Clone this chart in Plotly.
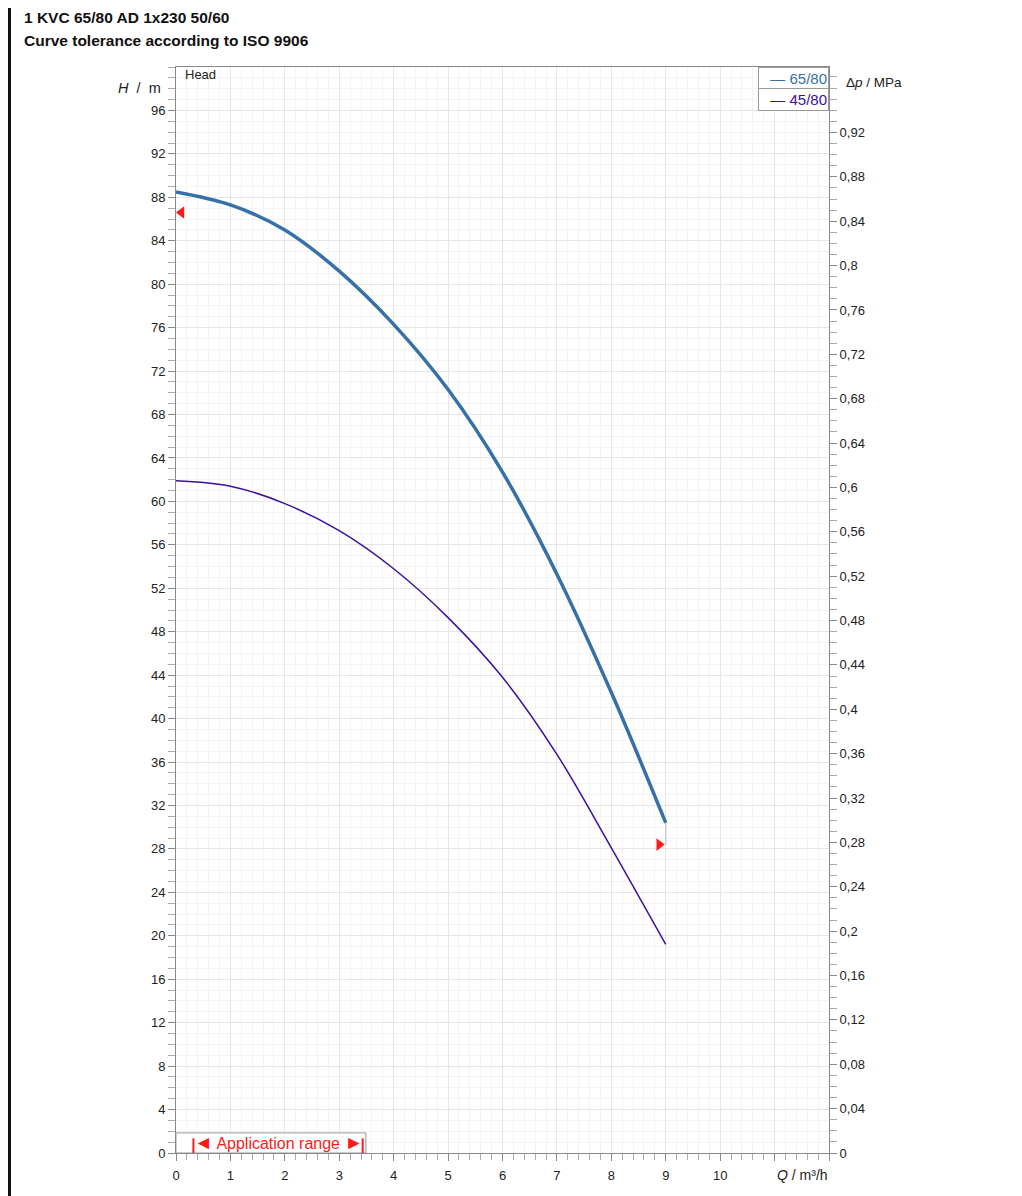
import plotly.graph_objects as go

# flow Q in m3/h
flow = [0, 1, 2, 3, 4, 5, 6, 7, 8, 9]
# head H in m for the two pump variants
head_65_80 = [88.5, 87.3, 85.0, 81.2, 76.3, 70.3, 62.7, 53.3, 42.4, 30.4]
head_45_80 = [61.9, 61.4, 59.8, 57.3, 53.8, 49.3, 43.8, 36.7, 28.1, 19.2]

# tolerance markers (ISO 9906)
tol_q = [0.1, 8.88]
tol_h = [86.6, 28.4]
tol_symbols = ["triangle-left", "triangle-right"]

# application range on the Q axis
app_range = [0.32, 3.43]
app_box = [0, 3.49]

# conversion head -> pressure (MPa per m of water)
MPA_PER_M = 0.00979
H_MAX = 100
Q_MAX = 12

h_ticks = list(range(0, 97, 4))
q_ticks = list(range(0, 13))
q_labels = [str(q) if q <= 10 else "" for q in q_ticks]
p_ticks = [round(i * 0.04, 2) for i in range(24)]


def fmt_p(v):
    s = f"{v:.2f}".rstrip("0").rstrip(".")
    return s.replace(".", ",")


p_labels = [fmt_p(v) for v in p_ticks]

blue = "#3571a8"
purple = "#3b10a3"
red = "#ff1a1a"
font = "Liberation Sans, Arial, sans-serif"

fig = go.Figure()

fig.add_trace(go.Scatter(
    x=flow, y=head_65_80, mode="lines", name="65/80",
    line=dict(color=blue, width=3.5, shape="spline", smoothing=1.0),
))
fig.add_trace(go.Scatter(
    x=flow, y=head_45_80, mode="lines", name="45/80",
    line=dict(color=purple, width=1.5, shape="spline", smoothing=1.0),
))
# grey connector at end of curve
fig.add_trace(go.Scatter(
    x=[flow[-1], flow[-1]], y=[tol_h[1], head_65_80[-1]], mode="lines",
    line=dict(color="#cccccc", width=1.5), hoverinfo="skip",
))
fig.add_trace(go.Scatter(
    x=tol_q, y=tol_h, mode="markers",
    marker=dict(symbol=tol_symbols, size=11, color=red),
    hoverinfo="skip",
))
# pressure axis carrier
fig.add_trace(go.Scatter(
    x=flow, y=[h * MPA_PER_M for h in head_65_80], yaxis="y2",
    mode="lines", line=dict(width=0), opacity=0, hoverinfo="skip",
))

axis_common = dict(
    showline=True, linecolor="#888888", linewidth=1,
    ticks="outside", tickcolor="#888888", ticklen=7,
    tickfont=dict(family=font, size=13, color="#222222"),
    zeroline=False,
)

# page has an 8px body margin, so the figure is 8px smaller than the window
fig.update_layout(
    width=1014, height=1188,
    margin=dict(l=168, r=193, t=59, b=43),
    paper_bgcolor="white", plot_bgcolor="white",
    showlegend=False,
    font=dict(family=font, color="#222222"),
    xaxis=dict(
        range=[0, Q_MAX], tickmode="array", tickvals=q_ticks, ticktext=q_labels,
        showgrid=True, gridcolor="#e6e6e6", mirror=True, ticklabelstandoff=3,
        minor=dict(dtick=0.2, ticklen=6, tickcolor="#aaaaaa", ticks="outside",
                   showgrid=True, gridcolor="#f4f4f4"),
        **axis_common,
    ),
    yaxis=dict(
        range=[0, H_MAX], tickmode="array", tickvals=h_ticks,
        showgrid=True, gridcolor="#e6e6e6",
        minor=dict(dtick=1, ticklen=7, tickcolor="#aaaaaa", ticks="outside",
                   showgrid=True, gridcolor="#f4f4f4"),
        **axis_common,
    ),
    yaxis2=dict(
        range=[0, H_MAX * MPA_PER_M], overlaying="y", side="right",
        tickmode="array", tickvals=p_ticks, ticktext=p_labels,
        showgrid=False,
        minor=dict(dtick=0.01, ticklen=7, tickcolor="#aaaaaa", ticks="outside"),
        **axis_common,
    ),
)

pw, ph = 653.0, 1086.0


def px(x):
    return (x - 176) / pw


def py(y):
    return (1153 - y) / ph


annotations = [
    dict(text="<b>1 KVC 65/80 AD 1x230 50/60</b>", x=px(22), y=py(17),
         font=dict(size=15.5, color="#111111")),
    dict(text="<b>Curve tolerance according to ISO 9906</b>", x=px(22), y=py(41),
         font=dict(size=15.5, color="#111111")),
    dict(text="Head", x=px(183), y=py(75), font=dict(size=13, color="#222222")),
    dict(text="<i>H</i>&nbsp;&nbsp;/&nbsp;&nbsp;m", x=px(163), y=py(88),
         xanchor="right", font=dict(size=14.5, color="#222222")),
    dict(text="Δ<i>p</i> / MPa", x=px(844), y=py(82),
         font=dict(size=13.5, color="#222222")),
]
for a in annotations:
    a.setdefault("xanchor", "left")
    a.update(xref="paper", yref="paper", yanchor="middle", showarrow=False)
    fig.add_annotation(**a)

fig.add_annotation(text="<i>Q</i> / m³/h", xref="x", yref="paper", x=11.52,
                   y=py(1175), showarrow=False, yanchor="middle",
                   font=dict(size=14, color="#222222"))

# legend boxes
for i, (name, col) in enumerate([("65/80", blue), ("45/80", purple)]):
    fig.add_annotation(
        text=f"— {name}", xref="paper", yref="paper", x=1, y=py(78 + 21 * i),
        xanchor="right", yanchor="middle", showarrow=False, align="right",
        font=dict(size=15, color=col), bgcolor="white",
        bordercolor="#999999", borderwidth=1, borderpad=1, width=67, height=19,
    )

# application range box
fig.add_shape(type="rect", xref="x", yref="y", x0=app_box[0], x1=app_box[1],
              y0=0, y1=1.85, line=dict(color="#999999", width=1),
              fillcolor="white", layer="above")
for q in app_range:
    fig.add_shape(type="line", xref="x", yref="y", x0=q, x1=q, y0=0, y1=1.35,
                  line=dict(color=red, width=2), layer="above")
fig.add_annotation(
    text="<span style='font-size:19px'>◄</span> Application range "
         "<span style='font-size:19px'>►</span>",
    xref="x", yref="y", x=sum(app_range) / 2, y=0.95, showarrow=False,
    font=dict(size=16, color=red),
)

# window frame edges
fig.add_shape(type="rect", xref="paper", yref="paper", x0=px(8), x1=px(11),
              y0=py(1196), y1=py(8), fillcolor="#111111", line=dict(width=0))
fig.add_shape(type="rect", xref="paper", yref="paper", x0=px(1019.5), x1=px(1022),
              y0=py(1196), y1=py(8), fillcolor="#111111", line=dict(width=0))

fig.write_html("out.html")
